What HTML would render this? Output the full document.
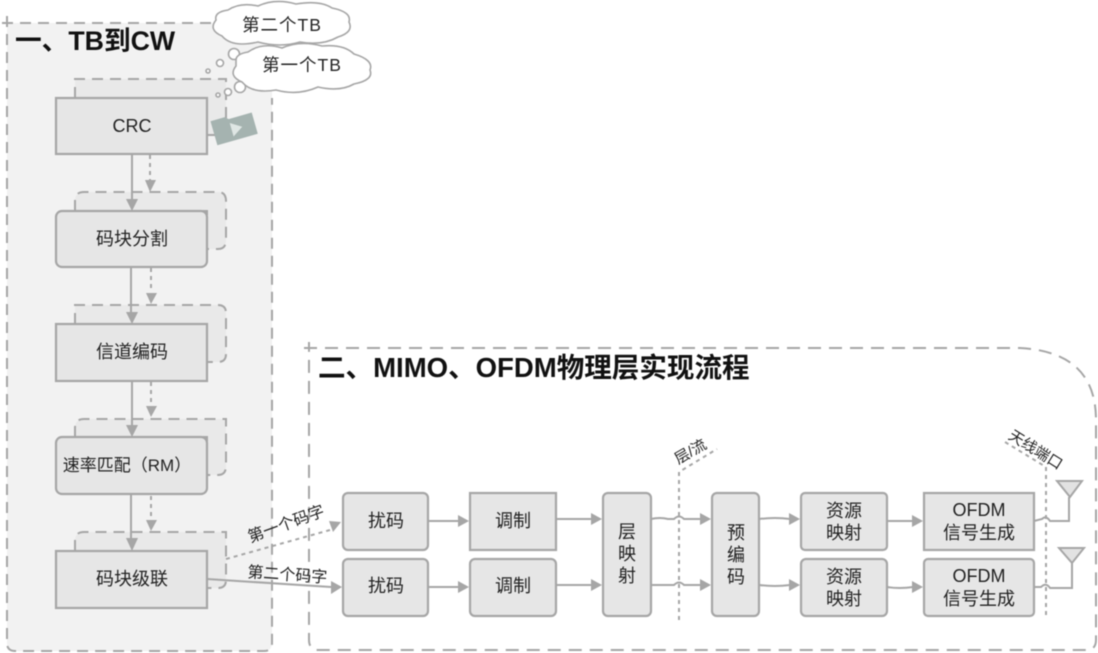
<!DOCTYPE html>
<html><head><meta charset="utf-8"><style>
html,body{margin:0;padding:0;background:#fff;width:1098px;height:653px;overflow:hidden}
svg{display:block;filter:blur(0.4px)}
text{font-family:"Liberation Sans","WenQuanYi Zen Hei","Noto Sans CJK SC",sans-serif;fill:#222;text-anchor:middle}
.t{font-family:"Liberation Sans","Noto Sans CJK SC",sans-serif;font-weight:bold;fill:#111;text-anchor:start}
.n{fill:#e6e6e6;stroke:#a6a6a6;stroke-width:2.2}
.b{fill:#e9e9e9;stroke:#a6a6a6;stroke-width:2;stroke-dasharray:11 7}
.l{fill:none;stroke:#a6a6a6;stroke-width:2}
.d{fill:none;stroke:#a6a6a6;stroke-width:2;stroke-dasharray:4 4}
.a{fill:#a6a6a6}
.c{fill:#fff;stroke:#a6a6a6;stroke-width:1.6}
.f{font-size:18px}
.k{font-size:17.5px;letter-spacing:1px}
</style></head><body>
<svg width="1098" height="653" viewBox="0 0 1098 653" xmlns="http://www.w3.org/2000/svg">
<!-- left panel -->
<path d="M7 23H272V643Q272 651 264 651H15Q7 651 7 643Z" fill="#f2f2f2"/>
<path d="M2 23H215M7 16V643Q7 651 15 651H264Q272 651 272 643V98" fill="none" stroke="#a6a6a6" stroke-width="2" stroke-dasharray="11 7"/>
<text class="t" x="15" y="50" font-size="26.7">一、TB到CW</text>

<!-- right panel -->
<path d="M304 348H1020Q1096 352 1096 420V640Q1096 650 1086 650H319Q309 650 309 640V342" fill="none" stroke="#a6a6a6" stroke-width="2" stroke-dasharray="13 8"/>
<text class="t" x="318" y="377" font-size="27.55">二、MIMO、OFDM物理层实现流程</text>

<!-- back frames -->
<path class="b" d="M75 98V79H226V135H207V98Z"/>
<path class="b" d="M75 211V201Q75 192 84 192H218Q226 192 226 201V240Q226 249 218 249H207V211Z"/>
<path class="b" d="M75 324V305H218Q226 305 226 313V354Q226 362 218 362H207V324Z"/>
<path class="b" d="M75 437V428Q75 419 84 419H226V466Q226 475 218 475H207V437Z"/>
<path class="b" d="M75 551V541Q75 532 84 532H226V580Q226 588 218 588H207V551Z"/>

<!-- left nodes -->
<rect class="n" x="56" y="98" width="151" height="56"/>
<text class="f" x="132" y="132">CRC</text>
<rect class="n" x="56" y="211" width="151" height="56" rx="6"/>
<text class="f" x="132" y="245">码块分割</text>
<rect class="n" x="56" y="324" width="151" height="57"/>
<text class="f" x="132" y="358">信道编码</text>
<rect class="n" x="56" y="437" width="151" height="57" rx="6"/>
<text font-size="17" x="127" y="471">速率匹配（RM）</text>
<rect class="n" x="56" y="551" width="151" height="57"/>
<text class="f" x="132" y="585">码块级联</text>

<!-- left connectors -->
<path class="l" d="M132 154V200M131 267V313M132 381V427M131 494V540"/>
<path class="a" d="M126 199H138L132 211ZM126 312H138L132 324ZM126 425H138L132 437ZM126 538H138L132 551Z"/>
<path class="d" d="M150 155V180M151 268V292M151 382V406M151 496V520"/>
<path class="a" d="M145 180H156L150 192ZM146 293H157L151 304ZM146 406H157L151 417ZM146 520H157L151 531Z"/>

<!-- code word connectors -->
<path class="d" d="M226 559L330 530"/>
<path class="a" d="M329 521L341 522L333 532Z"/>
<path class="l" d="M207 579L331 587"/>
<path class="a" d="M331 581L342 587L331 594Z"/>
<text font-size="16" x="288" y="529" transform="rotate(-20 288 529)">第一个码字</text>
<text font-size="16" x="287" y="580" transform="rotate(4 287 580)">第二个码字</text>

<!-- row nodes -->
<rect class="n" x="343" y="493" width="85" height="57" rx="5"/>
<rect class="n" x="343" y="559" width="85" height="57" rx="5"/>
<rect class="n" x="470" y="493" width="86" height="57"/>
<rect class="n" x="470" y="559" width="86" height="57" rx="5"/>
<rect class="n" x="603" y="493" width="48" height="123" rx="5"/>
<rect class="n" x="712" y="493" width="47" height="123" rx="5"/>
<rect class="n" x="801" y="493" width="86" height="57" rx="4"/>
<rect class="n" x="801" y="559" width="86" height="57" rx="5"/>
<rect class="n" x="924" y="493" width="110" height="57"/>
<rect class="n" x="924" y="559" width="110" height="57" rx="4"/>

<text class="f" x="386" y="527">扰码</text>
<text class="f" x="386" y="592">扰码</text>
<text class="f" x="513" y="527">调制</text>
<text class="f" x="513" y="592">调制</text>
<text class="f" x="627" y="538">层</text>
<text class="f" x="627" y="560">映</text>
<text class="f" x="627" y="582">射</text>
<text class="f" x="736" y="539">预</text>
<text class="f" x="736" y="561">编</text>
<text class="f" x="736" y="583">码</text>
<text class="f" x="844" y="517">资源</text>
<text class="f" x="844" y="539">映射</text>
<text class="f" x="844" y="583">资源</text>
<text class="f" x="844" y="605">映射</text>
<text class="f" x="979" y="516">OFDM</text>
<text class="f" x="979" y="539">信号生成</text>
<text class="f" x="979" y="582">OFDM</text>
<text class="f" x="979" y="605">信号生成</text>

<!-- row connectors -->
<path class="l" d="M428 521H458M428 587H458M556 519H592M556 585H592"/>
<path class="a" d="M458 515L469 521L458 527ZM458 581L469 587L458 593ZM591 513L602 519L591 525ZM591 579L602 585L591 591Z"/>
<path class="l" d="M651 519Q660 517 668 519H674Q679 514 684 519H701M651 585H674Q679 580 684 585H701"/>
<path class="a" d="M700 513L711 519L700 525ZM700 579L711 585L700 591Z"/>
<path class="l" d="M759 519Q775 517 790 519M759 585Q775 587 790 585"/>
<path class="a" d="M789 513L800 519L789 525ZM789 579L800 585L789 591Z"/>
<path class="l" d="M887 521H913M887 587Q900 589 913 587"/>
<path class="a" d="M912 515L923 521L912 527ZM912 581L923 587L912 593Z"/>

<!-- antennas -->
<path class="l" d="M1034 521L1042 519Q1046 515 1050 521H1069V497M1034 587H1041Q1046 582 1050 588H1072V563"/>
<path fill="#e2e2e2" stroke="#a6a6a6" stroke-width="2" d="M1057 481H1082L1070 497Z"/>
<path fill="#e2e2e2" stroke="#a6a6a6" stroke-width="2" d="M1059 548H1084L1072 563Z"/>

<!-- dotted markers -->
<path class="d" d="M679 620V472L717 449"/>
<text font-size="15" x="693" y="456" transform="rotate(-30 693 456)">层/流</text>
<path class="d" d="M1046 615V467L1005 442"/>
<text font-size="15" x="1033" y="454" transform="rotate(32 1033 454)">天线端口</text>

<!-- clouds -->
<path class="c" d="M216 20Q214 12 228 10Q240 2 258 6Q275 -2 296 4Q320 0 332 8Q352 12 349 22Q354 32 338 37Q322 46 300 42Q280 48 258 42Q232 48 222 36Q208 30 216 20Z"/>
<text class="k" x="282" y="31">第二个TB</text>
<circle class="c" cx="234" cy="54" r="5.5"/>
<circle class="c" cx="220" cy="63" r="3.5"/>
<circle class="c" cx="208" cy="71" r="2"/>
<circle class="c" cx="240" cy="87" r="5.5"/>
<circle class="c" cx="228" cy="92" r="3.5"/>
<circle class="c" cx="218" cy="95" r="2"/>
<path class="c" d="M236 60Q236 54 248 52Q262 42 282 48Q300 40 322 46Q344 44 354 54Q374 60 370 70Q374 80 354 84Q340 92 318 87Q298 96 276 90Q252 94 242 82Q228 76 236 66Z"/>
<text class="k" x="302" y="71">第一个TB</text>

<!-- video icon -->
<g transform="rotate(-16 234 127)">
<path fill="#a5b3b0" d="M213 115H228L231 118H255V140H213Z"/>
<path fill="#dfe6e4" d="M231 122L242 129L231 136Z"/>
</g>
</svg>
</body></html>
